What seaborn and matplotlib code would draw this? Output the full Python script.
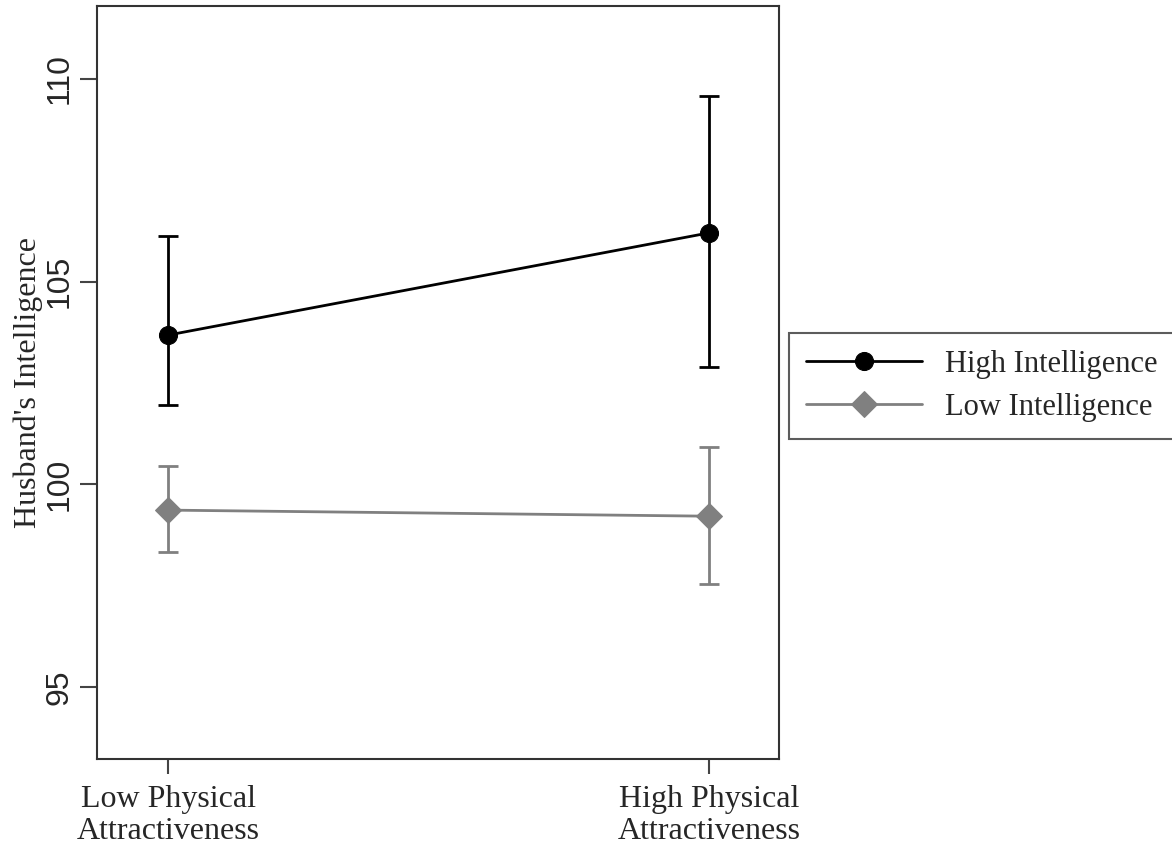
import pandas as pd
import matplotlib
matplotlib.use("Agg")
import matplotlib.pyplot as plt
import seaborn as sns

conditions = ["Low Physical\nAttractiveness", "High Physical\nAttractiveness"]
groups = ["High Intelligence", "Low Intelligence"]
high_mean = [103.68, 106.2]
high_lo = [101.95, 102.88]
high_hi = [106.12, 109.58]
low_mean = [99.36, 99.21]
low_lo = [98.33, 97.53]
low_hi = [100.46, 100.91]

df = pd.DataFrame({
    "x": [0, 1, 0, 1],
    "group": [groups[0]] * 2 + [groups[1]] * 2,
    "mean": high_mean + low_mean,
    "lo": high_lo + low_lo,
    "hi": high_hi + low_hi,
})

sns.set_theme(style="white")
plt.rcParams["font.family"] = ["Liberation Serif", "DejaVu Serif"]

fig = plt.figure(figsize=(11.72, 8.48), dpi=100)
ax = fig.add_axes([0.0828, 0.105, 0.582, 0.888])

colors = {groups[0]: "black", groups[1]: "#808080"}
markers = {groups[0]: "o", groups[1]: "D"}
msizes = {groups[0]: 13, groups[1]: 13}

for g in groups:
    d = df[df["group"] == g]
    ax.errorbar(d["x"], d["mean"], yerr=[d["mean"] - d["lo"], d["hi"] - d["mean"]],
                fmt="none", ecolor=colors[g], elinewidth=2, capsize=7, capthick=2, zorder=2)
    sns.lineplot(data=d, x="x", y="mean", color=colors[g], marker=markers[g],
                 markersize=msizes[g], markeredgecolor=colors[g], linewidth=2,
                 label=g, ax=ax, zorder=3)

ax.set_xlim(-0.132, 1.13)
ax.set_ylim(93.22, 111.8)
ax.set_xticks([0, 1])
ax.set_xticklabels(conditions, fontsize=23, linespacing=1.1)
ax.set_yticks([95, 100, 105, 110])
ax.set_yticklabels(["95", "100", "105", "110"], rotation=90, va="center",
                   fontsize=23, family=["Liberation Sans", "DejaVu Sans"])
ax.set_xlabel("")
ax.set_ylabel("Husband's Intelligence", fontsize=23, labelpad=1)
ax.tick_params(axis="y", which="major", direction="out", length=12, width=1.5,
               color="#444444", left=True, pad=4)
ax.tick_params(axis="x", which="major", direction="out", length=11, width=1.5,
               color="#444444", bottom=True, pad=8)
for s in ax.spines.values():
    s.set_color("#333333")
    s.set_linewidth(1.5)

leg = ax.legend(loc="upper left", bbox_to_anchor=(0.673, 0.607), bbox_transform=fig.transFigure,
                fontsize=22, handlelength=3.8, frameon=True, fancybox=False,
                edgecolor="#333333", borderpad=0.55, borderaxespad=0, labelspacing=0.45,
                handletextpad=0.75)
leg.get_frame().set_linewidth(1.5)

fig.savefig("out.png", dpi=100)
